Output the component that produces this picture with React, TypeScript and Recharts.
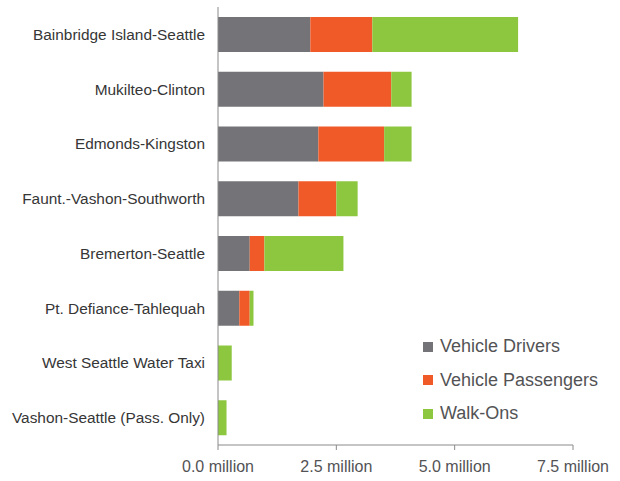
import { BarChart, Bar, XAxis, YAxis, Legend } from "recharts";

// ridership by route, millions
const routes = [
  "Bainbridge Island-Seattle",
  "Mukilteo-Clinton",
  "Edmonds-Kingston",
  "Faunt.-Vashon-Southworth",
  "Bremerton-Seattle",
  "Pt. Defiance-Tahlequah",
  "West Seattle Water Taxi",
  "Vashon-Seattle (Pass. Only)",
];
const drivers = [1.95, 2.23, 2.12, 1.7, 0.67, 0.45, 0, 0];
const passengers = [1.31, 1.43, 1.39, 0.8, 0.31, 0.22, 0, 0];
const walkOns = [3.08, 0.43, 0.58, 0.45, 1.67, 0.08, 0.29, 0.18];
const xTicks = [0, 2.5, 5, 7.5];

const series = [
  { key: "drivers", name: "Vehicle Drivers", color: "#747478" },
  { key: "passengers", name: "Vehicle Passengers", color: "#F05A28" },
  { key: "walkOns", name: "Walk-Ons", color: "#8DC63F" },
];

const data = routes.map((route, i) => ({
  route,
  drivers: drivers[i],
  passengers: passengers[i],
  walkOns: walkOns[i],
}));

const font = "'Liberation Sans', Arial, sans-serif";

function LegendBox() {
  return (
    <div style={{ fontFamily: font }}>
      {series.map((s) => (
        <div
          key={s.key}
          style={{
            display: "flex",
            alignItems: "center",
            height: 33.5,
            fontSize: 18,
            color: "#535355",
          }}
        >
          <span
            style={{
              width: 10,
              height: 10,
              background: s.color,
              marginRight: 7,
              display: "inline-block",
            }}
          />
          {s.name}
        </div>
      ))}
    </div>
  );
}

export default function App() {
  return (
    <div style={{ position: "absolute", left: 0, top: 0, background: "#fff" }}>
      <BarChart
        width={620}
        height={481}
        data={data}
        layout="vertical"
        margin={{ top: 7, right: 47, left: 0, bottom: 0 }}
      >
        <XAxis
          type="number"
          domain={[0, 7.5]}
          ticks={xTicks}
          tickFormatter={(v: number) => `${v.toFixed(1)} million`}
          height={36}
          tickSize={5}
          tickMargin={11}
          axisLine={{ stroke: "#8a8a8a" }}
          tickLine={{ stroke: "#8a8a8a" }}
          tick={{ fill: "#535355", fontSize: 16, fontFamily: font }}
        />
        <YAxis
          type="category"
          dataKey="route"
          width={218}
          tickLine={false}
          tickMargin={7}
          axisLine={{ stroke: "#8a8a8a" }}
          tick={{ fill: "#363636", fontSize: 15.4, fontFamily: font }}
        />
        <Legend
          layout="vertical"
          align="center"
          verticalAlign="middle"
          content={<LegendBox />}
          wrapperStyle={{ left: 423, top: 330, width: 195 }}
        />
        {series.map((s) => (
          <Bar
            key={s.key}
            dataKey={s.key}
            name={s.name}
            stackId="a"
            fill={s.color}
            barSize={35}
            isAnimationActive={false}
          />
        ))}
      </BarChart>
    </div>
  );
}
